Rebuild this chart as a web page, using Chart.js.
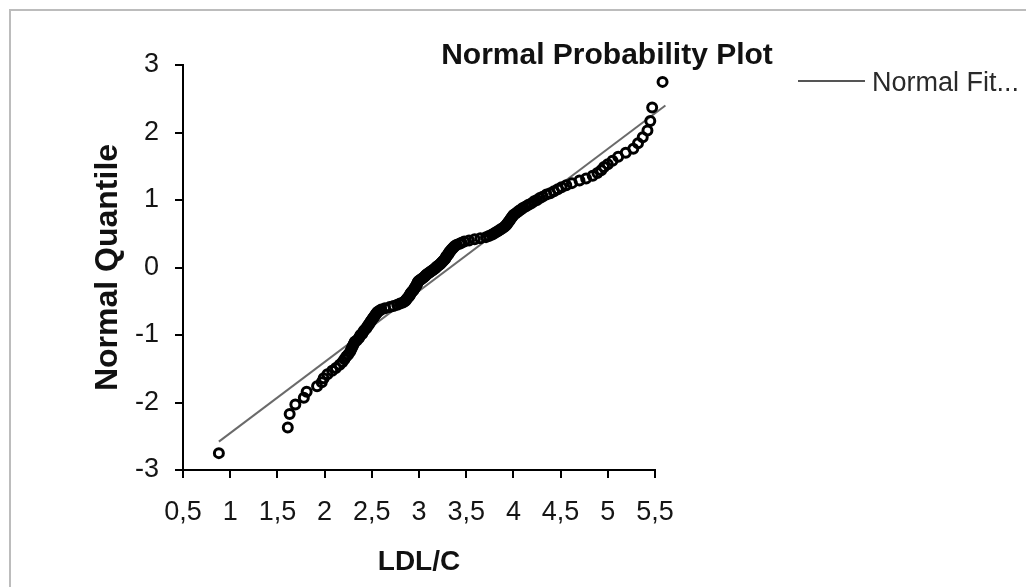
<!DOCTYPE html>
<html>
<head>
<meta charset="utf-8">
<title>Normal Probability Plot</title>
<script src="https://cdn.jsdelivr.net/npm/chart.js@4.4.1/dist/chart.umd.min.js"></script>
<style>
    body { margin: 0; background: #fff; }
    #wrap { position: relative; width: 1026px; height: 587px; overflow: hidden; }
    #frame { position: absolute; left: 9px; top: 9px; width: 1040px; height: 600px; border: 2px solid #bcbcbc; pointer-events: none; }
</style>
</head>
<body>
<div id="wrap">
    <canvas id="probPlot"></canvas>
    <div id="frame"></div>
</div>
<script>
// LDL/C 값 (정렬된 관측값)
const ldlValues = [
    0.88, 1.61, 1.63, 1.69, 1.78, 1.81, 1.92, 1.97, 1.99, 2.03,
    2.08, 2.12, 2.16, 2.19, 2.21, 2.23, 2.25, 2.27, 2.28, 2.29,
    2.30, 2.31, 2.32, 2.34, 2.36, 2.37, 2.38, 2.40, 2.41, 2.42,
    2.44, 2.45, 2.46, 2.47, 2.48, 2.49, 2.50, 2.51, 2.52, 2.53,
    2.54, 2.55, 2.56, 2.58, 2.60, 2.64, 2.69, 2.73, 2.77, 2.80,
    2.83, 2.85, 2.86, 2.87, 2.88, 2.89, 2.90, 2.905, 2.91, 2.92,
    2.93, 2.94, 2.95, 2.955, 2.96, 2.97, 2.975, 2.98, 2.985, 2.99,
    3.00, 3.015, 3.03, 3.045, 3.06, 3.07, 3.08, 3.095, 3.11, 3.125,
    3.14, 3.155, 3.17, 3.18, 3.19, 3.205, 3.22, 3.23, 3.24, 3.25,
    3.26, 3.27, 3.28, 3.285, 3.29, 3.30, 3.31, 3.315, 3.32, 3.33,
    3.34, 3.35, 3.36, 3.37, 3.38, 3.40, 3.43, 3.45, 3.48, 3.53,
    3.59, 3.65, 3.71, 3.74, 3.77, 3.79, 3.81, 3.83, 3.85, 3.87,
    3.89, 3.905, 3.92, 3.93, 3.94, 3.95, 3.96, 3.97, 3.98, 3.99,
    4.00, 4.02, 4.04, 4.06, 4.08, 4.10, 4.13,
    4.16, 4.19, 4.22, 4.25, 4.28, 4.31, 4.35, 4.39, 4.43, 4.47,
    4.51, 4.56, 4.62, 4.70, 4.77, 4.84, 4.89, 4.93, 4.96, 5.00,
    5.05, 5.11, 5.19, 5.27, 5.32, 5.37, 5.42, 5.45, 5.47, 5.58
];

// 정규 분위수 (y축)
const normalQuantiles = [
    -2.75, -2.37, -2.17, -2.03, -1.93, -1.84, -1.76, -1.70, -1.64, -1.58,
    -1.53, -1.49, -1.44, -1.40, -1.36, -1.32, -1.29, -1.25, -1.22, -1.19,
    -1.16, -1.13, -1.10, -1.08, -1.05, -1.03, -1.00, -0.98, -0.95, -0.93,
    -0.905, -0.883, -0.861, -0.840, -0.818, -0.798, -0.777, -0.757, -0.737, -0.718,
    -0.698, -0.679, -0.660, -0.642, -0.623, -0.605, -0.587, -0.570, -0.552, -0.535,
    -0.518, -0.501, -0.484, -0.467, -0.450, -0.434, -0.417, -0.401, -0.385, -0.368,
    -0.352, -0.336, -0.320, -0.305, -0.289, -0.273, -0.258, -0.242, -0.227, -0.212,
    -0.196, -0.181, -0.166, -0.151, -0.135, -0.120, -0.105, -0.090, -0.075, -0.060,
    -0.045, -0.030, -0.015, 0, 0.015, 0.030, 0.045, 0.060, 0.075, 0.090,
    0.105, 0.120, 0.135, 0.151, 0.166, 0.181, 0.196, 0.212, 0.227, 0.242,
    0.258, 0.273, 0.289, 0.305, 0.320, 0.336, 0.352, 0.368, 0.385, 0.401,
    0.417, 0.434, 0.450, 0.467, 0.484, 0.501, 0.518, 0.535, 0.552, 0.570,
    0.587, 0.605, 0.623, 0.642, 0.660, 0.679, 0.698, 0.718, 0.737, 0.757,
    0.777, 0.798, 0.818, 0.840, 0.861, 0.883, 0.905,
    0.93, 0.95, 0.98, 1.00, 1.03, 1.05, 1.08, 1.10, 1.13, 1.16,
    1.19, 1.22, 1.25, 1.29, 1.32, 1.36, 1.40, 1.44, 1.49, 1.53,
    1.58, 1.64, 1.70, 1.76, 1.84, 1.93, 2.03, 2.17, 2.37, 2.75
];

// Normal Fit 직선 양 끝점
const fitX = [0.88, 5.61];
const fitY = [-2.58, 2.40];

const chartTitle = 'Normal Probability Plot';
const legendLabel = 'Normal Fit...';
const xAxisTitle = 'LDL/C';
const yAxisTitle = 'Normal Quantile';

const FONT = "'Liberation Sans', Arial, sans-serif";

// 제목과 범례를 직접 그리는 플러그인
const titleLegendPlugin = {
    id: 'titleLegend',
    beforeDatasetsDraw(chart) {
        const ctx = chart.ctx;
        ctx.save();
        ctx.fillStyle = '#111';
        ctx.font = 'bold 30px ' + FONT;
        ctx.textAlign = 'center';
        ctx.textBaseline = 'alphabetic';
        ctx.fillText(chartTitle, 607, 64);
        ctx.restore();
    },
    afterDatasetsDraw(chart) {
        // 축 범위 밖(5.5 초과)에 있는 점도 그려준다
        const meta = chart.getDatasetMeta(1);
        const area = chart.chartArea;
        const fullArea = { left: 0, top: 0, right: chart.width, bottom: chart.height };
        meta.data.forEach(pt => {
            if (!Chart.helpers._isPointInArea(pt, area, pt.size() / 2)) {
                pt.draw(chart.ctx, fullArea);
            }
        });
    },
    afterDraw(chart) {
        const ctx = chart.ctx;
        ctx.save();
        ctx.strokeStyle = '#555';
        ctx.lineWidth = 2;
        ctx.beginPath();
        ctx.moveTo(798, 81);
        ctx.lineTo(865, 81);
        ctx.stroke();
        ctx.fillStyle = '#2a2a2a';
        ctx.font = '27px ' + FONT;
        ctx.textAlign = 'left';
        ctx.textBaseline = 'alphabetic';
        ctx.fillText(legendLabel, 872, 91);
        ctx.restore();
    }
};

function renderProbabilityPlot() {
    const points = ldlValues.map((x, i) => ({ x: x, y: normalQuantiles[i] }));
    const fitLine = fitX.map((x, i) => ({ x: x, y: fitY[i] }));

    const chartData = {
        datasets: [
            {
                label: legendLabel,
                type: 'line',
                data: fitLine,
                borderColor: '#6a6a6a',
                borderWidth: 2,
                pointRadius: 0,
                fill: false,
                clip: false,
                order: 2
            },
            {
                label: 'LDL/C',
                type: 'scatter',
                data: points,
                pointStyle: 'circle',
                pointRadius: 4.5,
                pointBorderWidth: 3,
                pointBorderColor: '#000',
                pointBackgroundColor: 'rgba(0,0,0,0)',
                clip: false,
                order: 1
            }
        ]
    };

    const chartOptions = {
        responsive: true,
        maintainAspectRatio: false,
        animation: false,
        layout: {
            padding: { left: 0, right: 371, top: 65, bottom: 0 }
        },
        plugins: {
            legend: { display: false },
            title: { display: false },
            tooltip: { enabled: false }
        },
        scales: {
            x: {
                type: 'linear',
                min: 0.5,
                max: 5.5,
                afterFit: (scale) => { scale.height = 117; },
                ticks: {
                    stepSize: 0.5,
                    padding: 18,
                    color: '#151515',
                    font: { family: FONT, size: 27 },
                    callback: (value) => String(value).replace('.', ',')
                },
                grid: {
                    drawOnChartArea: false,
                    drawTicks: true,
                    tickLength: 8,
                    color: '#000',
                    lineWidth: 2
                },
                border: { color: '#000', width: 2 },
                title: {
                    display: true,
                    text: xAxisTitle,
                    color: '#111',
                    font: { family: FONT, size: 28, weight: 'bold' },
                    padding: { top: 0, bottom: 8 }
                }
            },
            y: {
                type: 'linear',
                min: -3,
                max: 3,
                afterFit: (scale) => { scale.width = 183; },
                ticks: {
                    stepSize: 1,
                    padding: 16,
                    color: '#151515',
                    font: { family: FONT, size: 27 }
                },
                grid: {
                    drawOnChartArea: false,
                    drawTicks: true,
                    tickLength: 8,
                    color: '#000',
                    lineWidth: 2
                },
                border: { color: '#000', width: 2 },
                title: {
                    display: true,
                    text: yAxisTitle,
                    color: '#111',
                    font: { family: FONT, size: 32, weight: 'bold' },
                    padding: { top: 89, bottom: 0 }
                }
            }
        }
    };

    const ctx = document.getElementById('probPlot').getContext('2d');
    new Chart(ctx, {
        type: 'scatter',
        data: chartData,
        options: chartOptions,
        plugins: [titleLegendPlugin]
    });
}

renderProbabilityPlot();
</script>
</body>
</html>
